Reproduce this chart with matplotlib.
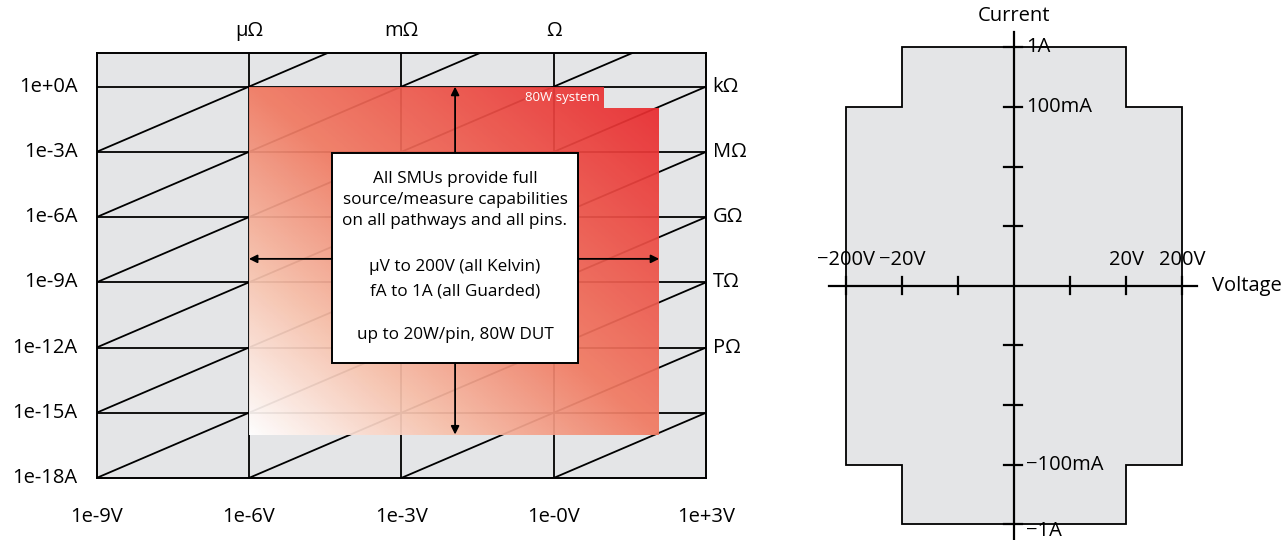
import numpy as np
import matplotlib
matplotlib.use('Agg')
import matplotlib.pyplot as plt
from matplotlib.colors import LinearSegmentedColormap
from matplotlib.patches import Polygon, Rectangle

plt.rcParams['font.family'] = ['Open Sans', 'DejaVu Sans']

# ---- left chart: V-I coverage (log-log) ----
v_ticks_exp = [-9, -6, -3, 0, 3]
v_tick_labels = ['1e-9V', '1e-6V', '1e-3V', '1e-0V', '1e+3V']
i_ticks_exp = [0, -3, -6, -9, -12, -15, -18]
i_tick_labels = ['1e+0A', '1e-3A', '1e-6A', '1e-9A', '1e-12A', '1e-15A', '1e-18A']
i_top_exp = 1.55

# resistance lines, log10(R)
r_lines_exp = [-6, -3, 0, 3, 6, 9, 12, 15, 18]
r_top_labels = {-6: 'μΩ', -3: 'mΩ', 0: 'Ω'}
r_right_labels = {3: 'kΩ', 6: 'MΩ', 9: 'GΩ', 12: 'TΩ', 15: 'PΩ'}

# coverage region (V, A)
cover_v = [1e-6, 1e-6, 10, 10, 120, 120]
cover_i = [1e-16, 1, 1, 0.1, 0.1, 1e-16]

box_lines = ['All SMUs provide full', 'source/measure capabilities',
             'on all pathways and all pins.',
             'μV to 200V (all Kelvin)', 'fA to 1A (all Guarded)',
             'up to 20W/pin, 80W DUT']
box_line_y = [179, 200, 221, 267, 292, 335]  # pixel rows

# ---- right chart: quadrant envelope ----
env_v = [-200, -20, -20, 20, 20, 200, 200, 20, 20, -20, -20, -200]
env_i = [0.1, 0.1, 1, 1, 0.1, 0.1, -0.1, -0.1, -1, -1, -0.1, -0.1]
volt_ticks = [-200, -20, -2, 2, 20, 200]
volt_labels = ['−200V', '−20V', '', '', '20V', '200V']
curr_ticks = [1, 0.1, 0.01, 0.001, -0.001, -0.01, -0.1, -1]
curr_labels = ['1A', '100mA', '', '', '', '', '−100mA', '−1A']

W, H = 1286, 540
GRAY = '#e4e5e7'
fig = plt.figure(figsize=(W / 100, H / 100), dpi=100)


def px(x, y):
    return x / W, 1 - y / H


ax = fig.add_axes([96.5 / W, (H - 478) / H, (706 - 96.5) / W, (478 - 53) / H])
ax.set_xscale('log')
ax.set_yscale('log')
ax.set_xlim(1e-9, 1e3)
ax.set_ylim(1e-18, 10 ** i_top_exp)
ax.set_facecolor(GRAY)
for s in ax.spines.values():
    s.set_linewidth(1.4)
ax.set_xticks([])
ax.set_yticks([])
ax.minorticks_off()

lw = 1.3
for e in v_ticks_exp[1:-1]:
    ax.axvline(10.0 ** e, color='k', lw=lw, zorder=1)
for e in i_ticks_exp[:-1]:
    ax.axhline(10.0 ** e, color='k', lw=lw, zorder=1)
vv_line = np.logspace(-9, 3, 50)
for r in r_lines_exp:
    ax.plot(vv_line, vv_line / 10.0 ** r, color='k', lw=lw, zorder=1)

# gradient region
cmap = LinearSegmentedColormap.from_list('cov', [(0, '#ffffff'), (0.25, '#f7bfa9'),
                                                 (0.5, '#f07a62'), (1.0, '#e8252b')])
gv = np.logspace(-6, np.log10(max(cover_v)), 300)
gi = np.logspace(-16, 0, 300)
U, Vg = np.meshgrid(np.linspace(0, 1, gv.size), np.linspace(0, 1, gi.size))
mesh = ax.pcolormesh(gv, gi, (U + Vg) / 2, cmap=cmap, shading='auto', alpha=0.93, zorder=2,
                     rasterized=True)
clip = Polygon(list(zip(cover_v, cover_i)), closed=True, transform=ax.transData)
mesh.set_clip_path(clip)
ax.text(8, 0.33, '80W system', color='white', fontsize=9.5, ha='right', va='center', zorder=5)

# text box
bx0, bx1, by0, by1 = 10 ** -4.36, 10 ** 0.48, 10 ** -12.72, 10 ** -3.04
ax.add_patch(Rectangle((bx0, by0), bx1 - bx0, by1 - by0, facecolor='white',
                       edgecolor='k', lw=1.4, zorder=4))
for line, yy in zip(box_lines, box_line_y):
    fig.text(*px(455, yy), line, ha='center', va='center', fontsize=12.3, zorder=5)
arr = dict(arrowstyle='-|>', color='k', lw=1.3, mutation_scale=12, shrinkA=0, shrinkB=0)
ax_x, ax_y = 10 ** -1.94, 10 ** -7.92
ax.annotate('', xy=(ax_x, 1), xytext=(ax_x, by1), arrowprops=arr, zorder=5)
ax.annotate('', xy=(ax_x, 1e-16), xytext=(ax_x, by0), arrowprops=arr, zorder=5)
ax.annotate('', xy=(1e-6, ax_y), xytext=(bx0, ax_y), arrowprops=arr, zorder=5)
ax.annotate('', xy=(max(cover_v), ax_y), xytext=(bx1, ax_y), arrowprops=arr, zorder=5)

fs = 14.5
for e, lab in zip(v_ticks_exp, v_tick_labels):
    ax.text(10.0 ** e, 10 ** -19.8, lab, ha='center', va='center', fontsize=fs, clip_on=False)
for e, lab in zip(i_ticks_exp, i_tick_labels):
    ax.text(10 ** -9.37, 10.0 ** e, lab, ha='right', va='center', fontsize=fs, clip_on=False)
for r, lab in r_top_labels.items():
    ax.text(10.0 ** r, 10 ** 2.55, lab, ha='center', va='center', fontsize=fs, clip_on=False)
for r, lab in r_right_labels.items():
    ax.text(10 ** 3.13, 10.0 ** (3 - r), lab, ha='left', va='center', fontsize=fs, clip_on=False)


# ---- right chart ----
def v_pos(v):
    return np.sign(v) * (np.log10(np.abs(v) / 2) + 1)


def i_pos(i):
    return np.sign(i) * (np.log10(np.abs(i)) + 4)


ax2 = fig.add_axes([800 / W, 0, 486 / W, 1])
ax2.set_xlim((800 - 1014) / 56.05, (1286 - 1014) / 56.05)
ax2.set_ylim((285.7 - 540) / 59.6, 285.7 / 59.6)
ax2.axis('off')

env = Polygon(list(zip(v_pos(np.array(env_v, float)), i_pos(np.array(env_i, float)))),
              closed=True, facecolor=GRAY, edgecolor='k', lw=1.3, zorder=1)
ax2.add_patch(env)
ax2.plot([(829 - 1014) / 56.05, (1197 - 1014) / 56.05], [0, 0], color='k', lw=1.6, zorder=3)
ax2.plot([0, 0], [(285.7 - 540) / 59.6, (285.7 - 32) / 59.6], color='k', lw=1.6, zorder=3)
tv = 8.5 / 59.6
th = 9 / 56.05
for v, lab in zip(volt_ticks, volt_labels):
    p = v_pos(v)
    ax2.plot([p, p], [-tv, tv], color='k', lw=1.6, zorder=3)
    if lab:
        ax2.text(p, 0.26, lab, ha='center', va='bottom', fontsize=fs)
for i, lab in zip(curr_ticks, curr_labels):
    p = i_pos(i)
    ax2.plot([-th * 1.1, th * 0.9], [p, p], color='k', lw=1.6, zorder=3)
    if lab:
        dy = -0.12 if i == -1 else 0
        ax2.text(0.22, p + dy, lab, ha='left', va='center', fontsize=fs, zorder=4)
ax2.text(0, (285.7 - 16) / 59.6, 'Current', ha='center', va='center', fontsize=fs)
ax2.text((1212 - 1014) / 56.05, 0, 'Voltage', ha='left', va='center', fontsize=fs)

fig.savefig('out.png', dpi=100)
